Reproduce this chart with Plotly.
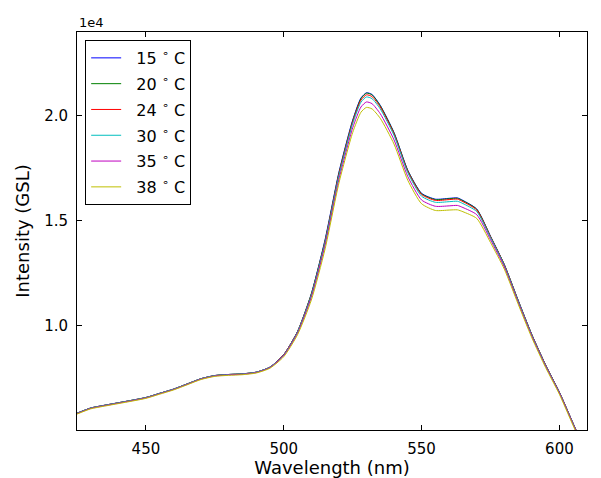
import plotly.graph_objects as go

# wavelength grid (nm) and intensities
wavelength = [425, 430, 435, 440, 445, 450, 455, 460, 465, 470, 475, 480, 485, 490,
              495, 500, 505, 510, 515, 520, 525, 528, 530, 532, 535, 540, 545, 550,
              555, 560, 563, 565, 570, 575, 580, 585, 590, 595, 600, 605, 610]

i_15 = [5800, 6050, 6180, 6300, 6420, 6550, 6750, 6950, 7200, 7450, 7600, 7650, 7680, 7760,
        8000, 8600, 9700, 11500, 14100, 17300, 19800, 20850, 21100, 21020, 20500, 19200, 17400, 16300,
        16020, 16060, 16080, 15960, 15550, 14250, 12900, 11200, 9550, 8100, 6800, 5300, 3800]
i_20 = [5800, 6050, 6180, 6300, 6420, 6550, 6750, 6950, 7200, 7450, 7600, 7650, 7680, 7760,
        8000, 8600, 9700, 11500, 14050, 17250, 19750, 20820, 21080, 21000, 20480, 19180, 17380, 16280,
        16000, 16040, 16060, 15940, 15540, 14240, 12900, 11200, 9550, 8100, 6800, 5300, 3800]
i_24 = [5800, 6050, 6180, 6300, 6420, 6550, 6750, 6950, 7200, 7450, 7600, 7650, 7680, 7760,
        8000, 8600, 9700, 11450, 14000, 17200, 19700, 20750, 21000, 20920, 20420, 19130, 17340, 16240,
        15960, 16000, 16020, 15900, 15500, 14220, 12880, 11180, 9540, 8100, 6800, 5300, 3800]
i_30 = [5800, 6050, 6180, 6300, 6420, 6550, 6750, 6950, 7200, 7450, 7600, 7650, 7680, 7760,
        8000, 8580, 9680, 11420, 13950, 17120, 19620, 20650, 20900, 20820, 20330, 19060, 17280, 16160,
        15870, 15900, 15920, 15810, 15430, 14180, 12850, 11160, 9520, 8080, 6790, 5290, 3800]
i_35 = [5780, 6030, 6160, 6280, 6400, 6530, 6730, 6930, 7180, 7430, 7580, 7630, 7660, 7740,
        7980, 8550, 9620, 11330, 13820, 16950, 19420, 20420, 20660, 20580, 20100, 18850, 17100, 15980,
        15680, 15700, 15720, 15620, 15280, 14080, 12780, 11100, 9470, 8040, 6760, 5260, 3780]
i_38 = [5760, 6010, 6140, 6260, 6380, 6510, 6710, 6910, 7160, 7410, 7560, 7610, 7640, 7720,
        7950, 8500, 9550, 11200, 13650, 16780, 19200, 20170, 20400, 20330, 19880, 18650, 16920, 15800,
        15480, 15500, 15510, 15420, 15100, 13950, 12680, 11020, 9400, 7980, 6700, 5200, 3720]

series_names = ["\u00a0\u00a015 <sup>∘</sup> C", "\u00a0\u00a020 <sup>∘</sup> C",
                "\u00a0\u00a024 <sup>∘</sup> C", "\u00a0\u00a030 <sup>∘</sup> C",
                "\u00a0\u00a035 <sup>∘</sup> C", "\u00a0\u00a038 <sup>∘</sup> C"]
series_values = [i_15, i_20, i_24, i_30, i_35, i_38]
colors = ["#0000ff", "#008000", "#ff0000", "#00bfbf", "#bf00bf", "#bfbf00"]

y_tickvals = [10000, 15000, 20000]
y_ticktext = ["1.0", "1.5", "2.0"]
x_tickvals = [450, 500, 550, 600]

fig = go.Figure()
for k, (name, vals) in enumerate(zip(series_names, series_values)):
    fig.add_trace(go.Scatter(
        x=wavelength, y=vals, name=name, mode="lines",
        line=dict(color=colors[k], width=1, shape="spline", smoothing=0.6),
        legendgroup=f"g{k}",
    ))

axis_common = dict(
    showline=True, linecolor="black", linewidth=1, mirror="ticks",
    ticks="inside", ticklen=5, tickcolor="black", showgrid=False, zeroline=False,
    tickfont=dict(size=15, color="black"), automargin=False, ticklabelstandoff=5,
)

# page body has an 8px margin, so the figure is a bit smaller than the window
fig.update_layout(
    width=593, height=470,
    margin=dict(l=69, r=14, t=24, b=48, autoexpand=False),
    paper_bgcolor="white", plot_bgcolor="white",
    font=dict(family="DejaVu Sans", color="black"),
    xaxis=dict(range=[425, 610], tickvals=x_tickvals,
               title=dict(text="Wavelength (nm)", font=dict(size=18), standoff=0),
               **axis_common),
    yaxis=dict(range=[5000, 24000], tickvals=y_tickvals, ticktext=y_ticktext,
               title=dict(text="Intensity (GSL)", font=dict(size=18), standoff=9),
               **axis_common),
    legend=dict(x=0.016, y=0.98, xanchor="left", yanchor="top",
                bgcolor="white", bordercolor="black", borderwidth=1,
                font=dict(size=16), tracegroupgap=2),
    showlegend=True,
    annotations=[dict(text="1e4", xref="paper", yref="paper", x=0, y=1,
                      xanchor="left", yanchor="bottom", showarrow=False,
                      font=dict(size=13))],
)

fig.write_html("out.html")
